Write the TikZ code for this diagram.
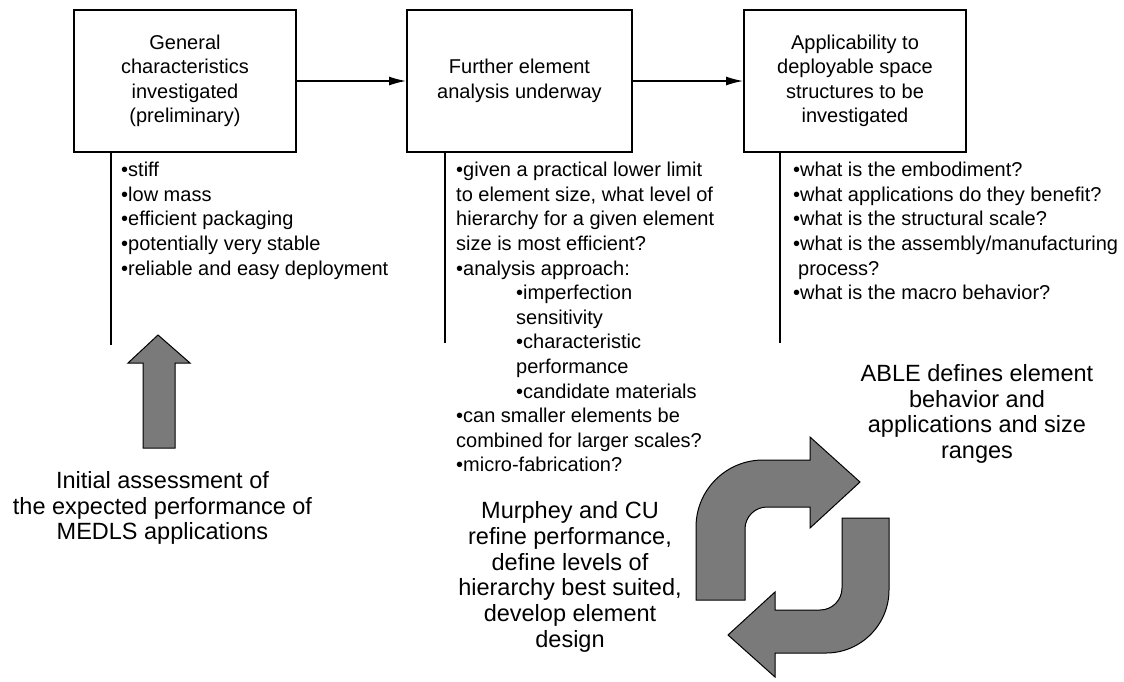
\documentclass[tikz,border=0pt]{standalone}
\usepackage{fontspec}
\setmainfont{Liberation Sans}
\usetikzlibrary{arrows.meta}
\begin{document}
\begin{tikzpicture}[x=1pt,y=-1pt,
  box/.style={draw, line width=2pt, minimum height=142pt, anchor=north west,
    align=center, inner sep=0pt, font=\fontsize{20}{24.5}\selectfont},
  lst/.style={anchor=north west, align=left, inner sep=0pt,
    font=\fontsize{20}{24.6}\selectfont},
  big/.style={align=center, inner sep=0pt, font=\fontsize{23.5}{25.8}\selectfont},
  conn/.style={line width=1.3pt, -{Latex[length=17pt,width=9pt]}},
  stem/.style={line width=1.4pt},
  fat/.style={fill=black!52, draw=black, line width=1pt, line join=miter}]
\useasboundingbox (0,0) rectangle (1124,681);

% boxes
\node[box, minimum width=222pt] (b1) at (73,9) {General\\characteristics\\investigated\\(preliminary)};
\node[box, minimum width=225pt] (b2) at (406,9) {Further element\\analysis underway};
\node[box, minimum width=222pt] (b3) at (743,9) {Applicability to\\deployable space\\structures to be\\investigated};

\draw[conn] (b1.east) -- (b2.west);
\draw[conn] (b2.east) -- (b3.west);

% stems
\coordinate (e1) at (111,345);
\coordinate (e2) at (445,343);
\coordinate (e3) at (780,343);
\draw[stem] (b1.south -| e1) -- (e1);
\draw[stem] (b2.south -| e2) -- (e2);
\draw[stem] (b3.south -| e3) -- (e3);

% lists
\node[lst] (t1) at (121,162) {•stiff\\•low mass\\•efficient packaging\\•potentially very stable\\•reliable and easy deployment};
\node[lst] (t2) at (456,162) {•given a practical lower limit\\to element size, what level of\\hierarchy for a given element\\size is most efficient?\\•analysis approach:\\\hspace*{60pt}•imperfection\\\hspace*{60pt}sensitivity\\\hspace*{60pt}•characteristic\\\hspace*{60pt}performance\\\hspace*{60pt}•candidate materials\\•can smaller elements be\\combined for larger scales?\\•micro-fabrication?};
\node[lst] (t3) at (793,162) {•what is the embodiment?\\•what applications do they benefit?\\•what is the structural scale?\\•what is the assembly/manufacturing\\\hspace*{5pt}process?\\•what is the macro behavior?};

% big up arrow
\draw[fat] (158,335) -- (190,363) -- (175,363) -- (175,448) -- (143,448) -- (143,363) -- (128,363) -- cycle;

% text blocks
\node[big] (init) at (162.5,508) {Initial assessment of\\the expected performance of\\MEDLS applications};
\node[big] (able) at (977,414) {ABLE defines element\\behavior and\\applications and size\\ranges};
\node[big] (murph) at (570,577) {Murphey and CU\\refine performance,\\define levels of\\hierarchy best suited,\\develop element\\design};

% cycle arrows
\draw[fat] (696,600) -- (696,527) arc[start angle=180, end angle=270, radius=67] -- (810,460) -- (810,437) -- (860,482) -- (810,528) -- (810,507) -- (767,507) arc[start angle=270, end angle=180, radius=22] -- (745,600) -- cycle;
\draw[fat] (889,518) -- (889,590) arc[start angle=0, end angle=90, radius=63] -- (775,653) -- (775,677) -- (728,635) -- (775,592) -- (775,610) -- (820,610) arc[start angle=90, end angle=0, radius=22] -- (842,518) -- cycle;
\end{tikzpicture}
\end{document}
